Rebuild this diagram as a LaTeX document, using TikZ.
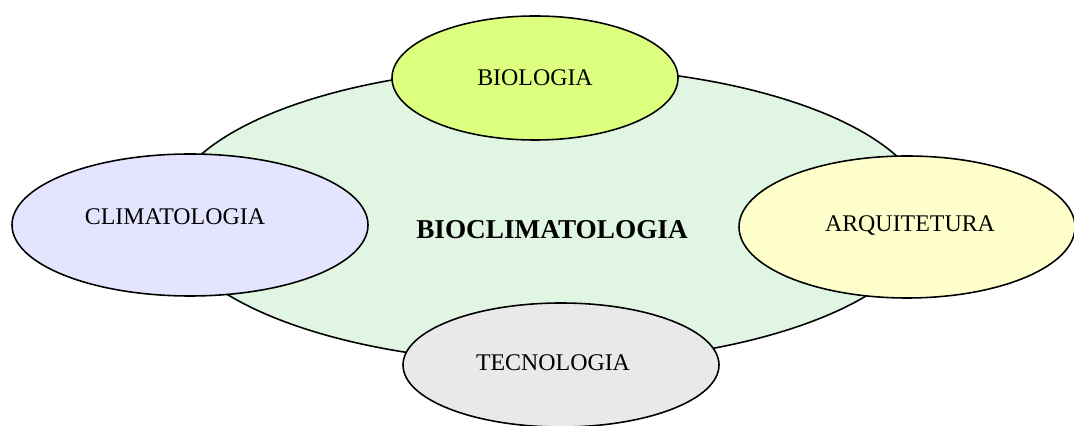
\documentclass[tikz,border=0pt]{standalone}
\usepackage{fontspec}
\setmainfont{Liberation Serif}
\usetikzlibrary{shapes.geometric}

\definecolor{verdeclaro}{HTML}{E0F6E2}
\definecolor{amareloverde}{HTML}{DDFF80}
\definecolor{lilas}{HTML}{E4E4FF}
\definecolor{creme}{HTML}{FFFFCC}
\definecolor{cinza}{HTML}{E9E9E9}

\begin{document}
\begin{tikzpicture}[line width=0.9pt,main node/.style={ellipse,draw=black,inner sep=0pt},label text/.style={font=\fontsize{13.6}{15}\selectfont}]
  \useasboundingbox (0,0) rectangle (21.48,8.52);
  \node[main node,fill=verdeclaro,minimum width=15.2cm,minimum height=5.92cm] (bioclima) at (10.96,4.22) {};
  \node[main node,fill=amareloverde,minimum width=5.72cm,minimum height=2.48cm] (bio) at (10.7,6.96) {};
  \node[main node,fill=lilas,minimum width=7.12cm,minimum height=2.84cm] (clima) at (3.8,4.02) {};
  \node[main node,fill=creme,minimum width=6.72cm,minimum height=2.84cm] (arq) at (18.14,3.98) {};
  \node[main node,fill=cinza,minimum width=6.32cm,minimum height=2.48cm] (tec) at (11.22,1.22) {};

  \node[font=\fontsize{15.5}{18}\selectfont\bfseries] (tbioclima) at ([xshift=0.08cm,yshift=-0.3cm]bioclima.center) {BIOCLIMATOLOGIA};
  \node[label text] (tbio) at (bio.center) {BIOLOGIA};
  \node[label text] (tclima) at ([xshift=-0.3cm,yshift=0.16cm]clima.center) {CLIMATOLOGIA};
  \node[label text] (tarq) at ([xshift=0.06cm,yshift=0.02cm]arq.center) {ARQUITETURA};
  \node[label text] (ttec) at ([xshift=-0.16cm,yshift=0.04cm]tec.center) {TECNOLOGIA};
\end{tikzpicture}
\end{document}
